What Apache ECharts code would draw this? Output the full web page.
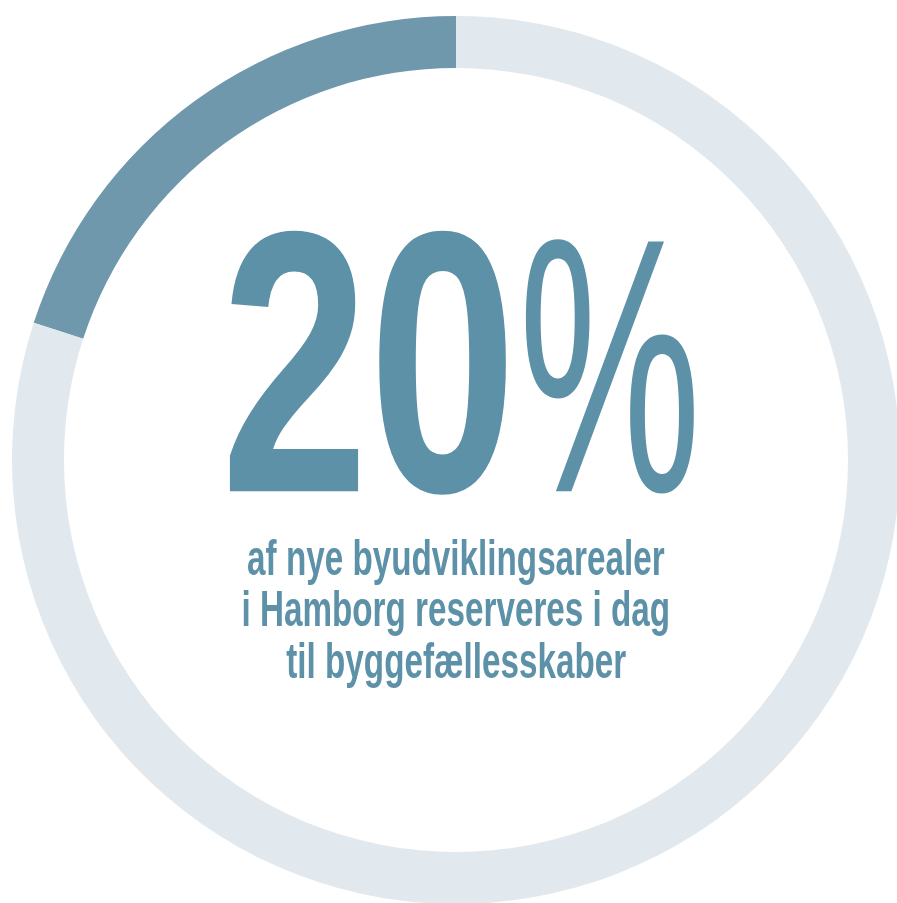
<!DOCTYPE html>
<html>
<head>
<meta charset="utf-8">
<style>
  html, body { margin: 0; padding: 0; background: #ffffff; }
  #chart { width: 897px; height: 903px; }
</style>
<script src="https://cdn.jsdelivr.net/npm/echarts@6/dist/echarts.min.js"></script>
</head>
<body>
<div id="chart"></div>
<script>
// ---- data ----
const categories = ['Byggefællesskaber', 'Øvrige byudviklingsarealer'];
const values = [20, 80];
const headline = '20';
const headlineUnit = '%';
const subtitleLines = [
  'af nye byudviklingsarealer',
  'i Hamborg reserveres i dag',
  'til byggefællesskaber'
];

// ---- styles ----
const colors = ['#7098ad', '#e2e9ee'];
const textColor = '#5d91a8';
const fontFamily = '"Liberation Sans Narrow", "Liberation Sans", Arial, sans-serif';

// text measurement helper
const ctx = document.createElement('canvas').getContext('2d');
function measure(text, font) {
  ctx.font = font;
  ctx.textAlign = 'center';
  ctx.textBaseline = 'middle';
  const m = ctx.measureText(text);
  ctx.textBaseline = 'alphabetic';
  const a = ctx.measureText(text);
  return {
    L: m.actualBoundingBoxLeft, R: m.actualBoundingBoxRight,
    asc: m.actualBoundingBoxAscent, desc: m.actualBoundingBoxDescent,
    baseOff: a.actualBoundingBoxAscent - m.actualBoundingBoxAscent
  };
}
// fit a text's ink into a box (left, top, right, bottom)
function fitBox(text, font, box) {
  const m = measure(text, font);
  const sx = (box[2] - box[0]) / (m.L + m.R);
  const sy = (box[3] - box[1]) / (m.asc + m.desc);
  const cx = (box[0] + box[2]) / 2, cy = (box[1] + box[3]) / 2;
  return {
    type: 'text',
    x: cx - sx * (m.R - m.L) / 2,
    y: cy - sy * (m.desc - m.asc) / 2,
    scaleX: sx, scaleY: sy,
    silent: true,
    style: {
      x: 0, y: 0, text: text, font: font, fill: textColor,
      align: 'center', verticalAlign: 'middle'
    }
  };
}

const bigFont = 'bold 374px ' + fontFamily;
const unitFont = 'normal 357px ' + fontFamily;
const subFont = 'bold 48px ' + fontFamily;

const graphics = [];
graphics.push(fitBox(headline, bigFont, [229, 229, 506, 497]));
graphics.push(fitBox(headlineUnit, unitFont, [525, 236, 695, 497]));

// subtitle: uniform scale from widest line and ascender height
const mLine = measure(subtitleLines[1], subFont);
const subSx = (668 - 243) / (mLine.L + mLine.R);
ctx.font = subFont; ctx.textBaseline = 'alphabetic';
const bAsc = ctx.measureText('b').actualBoundingBoxAscent;
const subScaleY = 36 / bAsc;
const baselines = [575, 626, 678];
const subCenterX = 456;
subtitleLines.forEach(function (line, i) {
  const m = measure(line, subFont);
  graphics.push({
    type: 'text',
    x: subCenterX - subSx * (m.R - m.L) / 2,
    y: baselines[i] - subScaleY * m.baseOff,
    scaleX: subSx, scaleY: subScaleY,
    silent: true,
    style: { x: 0, y: 0, text: line, font: subFont, fill: textColor,
             align: 'center', verticalAlign: 'middle' }
  });
});

const chart = echarts.init(document.getElementById('chart'), null, { renderer: 'canvas' });
chart.setOption({
  animation: false,
  backgroundColor: '#ffffff',
  series: [{
    type: 'pie',
    center: [456, 460],
    radius: [392, 444],
    startAngle: 90,
    clockwise: false,
    silent: true,
    label: { show: false },
    labelLine: { show: false },
    itemStyle: { borderWidth: 0 },
    data: categories.map(function (c, i) {
      return { name: c, value: values[i], itemStyle: { color: colors[i] } };
    })
  }],
  graphic: graphics
});
</script>
</body>
</html>
